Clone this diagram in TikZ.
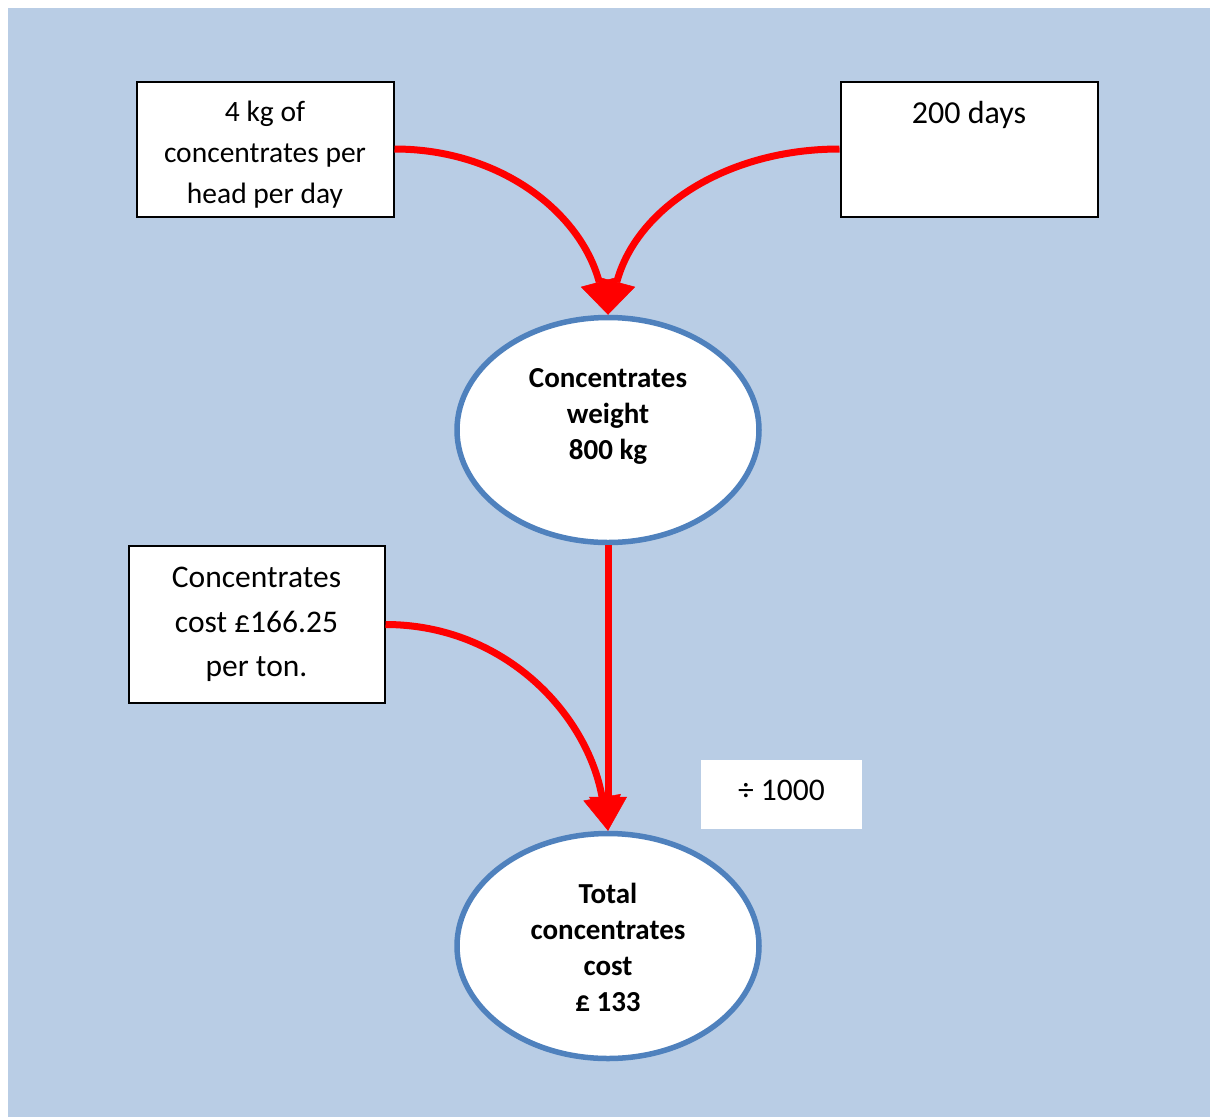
\documentclass[tikz,border=0pt]{standalone}
\usepackage{fontspec}
\setmainfont{Carlito}
\usetikzlibrary{arrows.meta,shapes.geometric}
\definecolor{bgblue}{HTML}{B9CDE5}
\definecolor{ellblue}{HTML}{4F81BD}
\tikzset{
  box/.style={draw=black, line width=2pt, fill=white, align=center, inner sep=0pt},
  txt/.style={align=center, inner sep=0pt},
  ell/.style={ellipse, draw=ellblue, line width=5.5pt, fill=white, inner sep=0pt,
    minimum width=302pt, minimum height=225pt},
  elltext/.style={align=center, inner sep=0pt, font=\bfseries\fontsize{29}{36}\selectfont},
  arr/.style={draw=red, line width=7pt, -{Triangle[length=34pt,width=38pt,line width=0.5pt]}},
}
\begin{document}
\begin{tikzpicture}[x=1pt,y=-1pt]
\useasboundingbox (0,0) rectangle (1210,1117);
\fill[bgblue] (8,8) rectangle (1210,1117);

\node[box, minimum width=257pt, minimum height=135pt] (b1) at (265,149) {};
\node[txt, font=\fontsize{29.5}{41}\selectfont] (t1) at (265,155) {4 kg of\\concentrates per\\head per day};
\node[box, minimum width=257pt, minimum height=135pt] (b2) at (969,149) {};
\node[font=\fontsize{32}{41}\selectfont, anchor=base] (t2) at (969,123) {200 days};

\node[ell] (e1) at (608,430) {};
\node[elltext] (e1t) at (608,416) {Concentrates\\weight\\800 kg};

\node[box, minimum width=256pt, minimum height=157pt, font=\fontsize{31.5}{44.5}\selectfont] (b3) at (256.5,624.5)
  {Concentrates\\cost £166.25\\per ton.};

\node[fill=white, minimum width=161pt, minimum height=69pt, inner sep=0pt] (d) at (781.5,794.5) {};
\node[txt, font=\fontsize{31.5}{34}\selectfont] (dt) at (781.5,790) {÷ 1000};

\node[ell] (e2) at (608,946) {};
\node[elltext] (e2t) at (608,947) {Total\\concentrates\\cost\\£ 133};

\draw[arr] (b1.east) to[out=0,in=105] (e1.north);
\draw[arr] (b2.west) to[out=180,in=75] (e1.north);
\draw[arr] (e1.south) -- (e2.north);
\draw[arr] (b3.east) to[out=0,in=100] (e2.north);
\end{tikzpicture}
\end{document}
